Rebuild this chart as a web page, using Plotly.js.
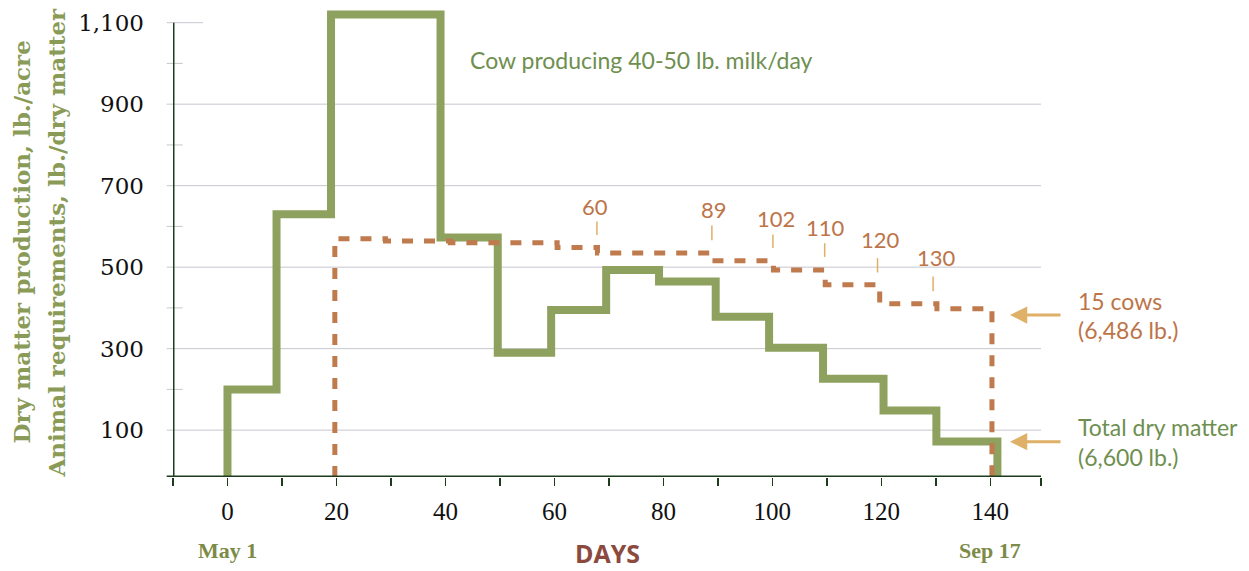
<!DOCTYPE html>
<html><head><meta charset="utf-8">
<script src="https://cdn.plot.ly/plotly-3.0.1.min.js"></script>
<style>html,body{margin:0;padding:0;background:#fff}#chart{width:1249px;height:571px}</style>
</head><body><div id="chart"></div>
<script>
// ---------------- data ----------------
const axisFloor = -15;
// Total dry matter (step start days and lb./acre per step)
const greenStepX = [0, 9, 19, 39.1, 49.6, 59.4, 69.5, 79.2, 89.6, 99.4, 109.3, 120.4, 130.1];
const greenStepY = [200, 630, 1120, 573, 290, 395, 493, 465, 378, 302, 226, 148, 72];
const greenEndX = 141.3;
// Animal requirements, 15 cows
const reqStepX = [19.7, 29.0, 40.9, 60.5, 67.9, 88.9, 100.2, 109.7, 119.7, 130.2];
const reqStepY = [570, 564, 560, 548, 535, 516, 493, 457, 410, 398];
const reqEndX = 140.3;
// day labels above the requirement line
const dayLabels = ['60', '89', '102', '110', '120', '130'];
const dayLabelX = [67.5, 89.2, 100.7, 109.8, 119.8, 130.2];
const dayLabelY = [648, 642, 620, 598, 567, 524];
const dayTickX = [67.8, 88.9, 100.1, 109.6, 119.3, 129.5];
const dayTickTop = [612, 602, 580, 559, 522, 477];
const dayTickBottom = [579, 566, 547, 525, 487, 441];
// axes
const xTickVals = [-10, 0, 10, 20, 30, 40, 50, 60, 70, 80, 90, 100, 110, 120, 130, 140, 149.3];
const xTickText = ['', '0', '', '20', '', '40', '', '60', '', '80', '', '100', '', '120', '', '140', ''];
const yTickVals = [100, 300, 500, 700, 900, 1100];
const yTickText = ['100', '300', '500', '700', '900', '1,100'];
const yMinorVals = [200, 400, 600, 800, 1000];
const dateLabels = ['May 1', 'Sep 17'];
const dateLabelX = [0, 140];
const sideLabels = ['15 cows', '(6,486 lb.)', 'Total dry matter', '(6,600 lb.)'];
const sideLabelColors = ['#BD7448', '#BD7448', '#6E8F4F', '#6E8F4F'];

// ---------------- layout geometry ----------------
const W = 1249, H = 571, L = 173, R = 208, T = 8, B = 94;
const plotW = W - L - R, plotH = H - T - B;
const xRange = [-10, 149.3], yRange = [axisFloor, 1136];
const pxX = px => (px - L) / plotW;
const pxY = py => (H - B - py) / plotH;

const dark = '#1E3B1E', grid = '#C6C6CF', gold = '#DFB067';
const brown = '#BF7A4E', green = '#8FA15E';

const greenTrace = {
  x: [greenStepX[0], ...greenStepX, greenEndX],
  y: [axisFloor, ...greenStepY, axisFloor],
  mode: 'lines', line: {shape: 'hv', color: green, width: 8},
  hoverinfo: 'skip', showlegend: false
};
const reqTrace = {
  x: [reqStepX[0], ...reqStepX, reqEndX],
  y: [axisFloor, ...reqStepY, axisFloor],
  mode: 'lines', line: {shape: 'hv', color: brown, width: 5, dash: '11px,11px'},
  hoverinfo: 'skip', showlegend: false
};

const shapes = [];
yTickVals.forEach((v, i) => {
  const last = i === yTickVals.length - 1;
  shapes.push({type: 'line', xref: 'paper', yref: 'y', x0: pxX(166.7), x1: last ? pxX(203) : 1,
    y0: v, y1: v, line: {color: grid, width: 1}, layer: 'below'});
});
yMinorVals.forEach(v => {
  shapes.push({type: 'line', xref: 'paper', yref: 'y', x0: pxX(166.7), x1: pxX(182.7),
    y0: v, y1: v, line: {color: grid, width: 1}, layer: 'below'});
});
shapes.push({type: 'line', xref: 'x', yref: 'y', x0: xRange[0], x1: xRange[0],
  y0: axisFloor, y1: yTickVals[yTickVals.length - 1], line: {color: dark, width: 3}, layer: 'above'});
shapes.push({type: 'line', xref: 'paper', yref: 'y', x0: pxX(166.7), x1: 1,
  y0: axisFloor, y1: axisFloor, line: {color: dark, width: 3}, layer: 'above'});
dayTickX.forEach((x, i) => {
  shapes.push({type: 'line', xref: 'x', yref: 'y', x0: x, x1: x, y0: dayTickBottom[i], y1: dayTickTop[i],
    line: {color: gold, width: 1.5}});
});

const sans = 'Lato, "Open Sans", sans-serif';
const annotations = [];
annotations.push({xref: 'x', yref: 'y', x: 44.2, y: 1009, xanchor: 'left', yanchor: 'middle',
  text: 'Cow producing 40-50 lb. milk/day', showarrow: false, font: {family: sans, size: 23, color: '#6E8F4F'}});
dayLabels.forEach((t, i) => {
  annotations.push({xref: 'x', yref: 'y', x: dayLabelX[i], y: dayLabelY[i], text: t, showarrow: false,
    xanchor: 'center', yanchor: 'middle', font: {family: sans, size: 22, color: '#BD7448'}});
});
const sideY = [300.7, 330, 426.7, 456.7];
sideLabels.forEach((t, i) => {
  annotations.push({xref: 'paper', yref: 'paper', x: pxX(1076), y: pxY(sideY[i]), text: t, showarrow: false,
    xanchor: 'left', yanchor: 'middle', font: {family: sans, size: 23, color: sideLabelColors[i]}});
});
[315, 441.7].forEach(py => {
  annotations.push({xref: 'paper', yref: 'paper', x: pxX(1010), y: pxY(py), text: '', showarrow: true,
    ax: 52, ay: 0, arrowhead: 2, arrowsize: 1.15, arrowwidth: 3, arrowcolor: gold, standoff: 0});
});
dateLabels.forEach((t, i) => {
  annotations.push({xref: 'x', yref: 'paper', x: dateLabelX[i], y: pxY(550), text: '<b>' + t + '</b>', showarrow: false,
    xanchor: 'center', yanchor: 'middle', font: {family: '"Liberation Serif", serif', size: 22, color: '#7D8B48'}});
});
annotations.push({xref: 'x', yref: 'paper', x: 69.7, y: pxY(571), text: '<b>DAYS</b>', showarrow: false,
  xanchor: 'center', yanchor: 'bottom', borderpad: 0,
  font: {family: '"Open Sans", sans-serif', size: 25, color: '#8C4A3E'}});
[['Dry matter production, lb./acre', 21], ['Animal requirements, lb./dry matter', 56]].forEach(([t, px]) => {
  annotations.push({xref: 'paper', yref: 'paper', x: pxX(px), y: pxY(242.5), text: '<b>' + t + '</b>', showarrow: false,
    textangle: -90, xanchor: 'center', yanchor: 'middle', font: {family: '"DejaVu Serif", serif', size: 23, color: '#8A9B58'}});
});

const layout = {
  width: W, height: H, margin: {l: L, r: R, t: T, b: B, pad: 0},
  paper_bgcolor: '#fff', plot_bgcolor: '#fff', showlegend: false,
  xaxis: {range: xRange, tickmode: 'array', tickvals: xTickVals, ticktext: xTickText,
    ticks: 'outside', ticklen: 8, tickwidth: 1.5, tickcolor: dark, showgrid: false, zeroline: false,
    showline: false, ticklabelstandoff: 4,
    tickfont: {family: '"Liberation Serif", serif', size: 25, color: '#111'}},
  yaxis: {range: yRange, tickmode: 'array', tickvals: yTickVals, ticktext: yTickText,
    ticks: '', showgrid: false, zeroline: false, showline: false, ticklabelstandoff: 28,
    tickfont: {family: '"DejaVu Serif", serif', size: 23, color: '#111'}},
  shapes: shapes, annotations: annotations
};
Plotly.newPlot('chart', [greenTrace, reqTrace], layout, {displayModeBar: false, staticPlot: true});
</script></body></html>
